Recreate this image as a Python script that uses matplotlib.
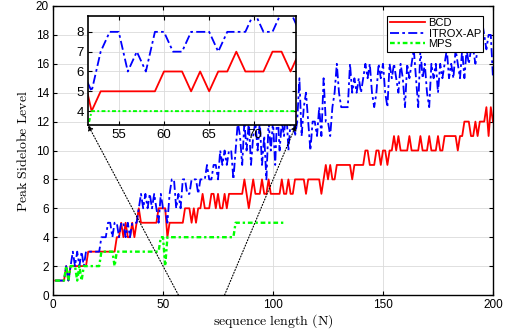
import numpy as np
import matplotlib
matplotlib.use('Agg')
import matplotlib.pyplot as plt

# peak sidelobe level, N = 1..200
bcd = [
    1, 1, 1, 1, 1, 2, 1, 2, 2, 2, 2, 2, 2, 2, 2, 3, 3, 3, 3, 3,            # 1-20
    3, 3, 3, 3, 3, 3, 3, 3, 4, 4, 5, 4, 5, 4, 4, 5, 4, 5, 6, 5,            # 21-40
    5, 5, 5, 5, 5, 5, 5, 6, 6, 6, 6, 4, 5, 5, 5, 5, 5, 5, 5, 6,            # 41-60
    6, 6, 5, 6, 5, 6, 6, 7, 6, 6, 6, 7, 7, 6, 7, 6, 6, 7, 6, 7,            # 61-80
    7, 7, 7, 7, 7, 7, 8, 7, 6, 7, 8, 7, 7, 7, 8, 7, 7, 8, 7, 7,            # 81-100
    7, 7, 7, 8, 7, 7, 8, 7, 7, 8, 8, 8, 8, 8, 7, 8, 8, 8, 8, 8,            # 101-120
    8, 7, 8, 9, 8, 9, 8, 8, 9, 9, 9, 9, 9, 9, 9, 8, 9, 9, 9, 9,            # 121-140
    9, 10, 10, 9, 9, 9, 10, 10, 9, 10, 10, 9, 10, 10, 11, 10, 11, 10, 10, 10,   # 141-160
    10, 11, 10, 10, 10, 10, 11, 10, 10, 10, 11, 10, 10, 10, 11, 10, 10, 11, 11, 11,  # 161-180
    11, 11, 11, 10, 11, 11, 12, 12, 12, 11, 11, 12, 11, 12, 12, 12, 13, 11, 13, 12,  # 181-200
]
itrox = [
    1, 1, 1, 1, 1, 2, 1, 2, 3, 2, 3, 2, 3, 2, 3, 3, 3, 3, 3, 3,            # 1-20
    3, 4, 4, 4, 5, 5, 4, 5, 5, 4, 5, 5, 4, 5, 4, 5, 5, 5, 6, 7,            # 21-40
    6, 7, 6, 7, 6, 7, 6, 5, 7, 6, 6, 5, 7, 8, 8, 6, 7, 6, 8, 8,            # 41-60
    7, 7, 8, 8, 8, 7, 8, 8, 8, 9, 8, 8, 9, 9, 8, 10, 9, 10, 9, 10,         # 61-80
    10, 8, 10, 12, 11, 9, 12, 10, 12, 9, 11, 12, 10, 12, 9, 11, 8, 12, 10, 12,  # 81-100
    9, 13, 10, 12, 11, 13, 10, 12, 13, 11, 12, 15, 11, 13, 14, 12, 10, 12, 12, 11,  # 101-120
    13, 11, 15, 12, 12, 11, 13, 14, 16, 14, 13, 13, 13, 13, 16, 14, 15, 14, 15, 14,  # 121-140
    15, 16, 15, 16, 14, 13, 14, 16, 15, 16, 14, 13, 16, 15, 16, 15, 14, 16, 15, 13,  # 141-160
    16, 15, 16, 17, 15, 13, 17, 15, 16, 14, 13, 16, 15, 16, 14, 16, 15, 16, 17, 15,  # 161-180
    16, 15, 17, 16, 15, 17, 15, 17, 16, 17, 17, 16, 17, 18, 19, 18, 17, 18, 18, 15,  # 181-200
]
# MPS only up to N = 105
mps = [
    1, 1, 1, 1, 1, 2, 1, 2, 2, 2, 1, 2, 1, 2, 2, 2, 2, 2, 2, 2,            # 1-20
    2, 3, 3, 3, 3, 3, 3, 2, 3, 3, 3, 3, 3, 3, 3, 3, 3, 3, 3, 3,            # 21-40
    3, 3, 3, 3, 3, 3, 3, 3, 4, 4, 2, 4, 4, 4, 4, 4, 4, 4, 4, 4,            # 41-60
    4, 4, 4, 4, 4, 4, 4, 4, 4, 4, 4, 4, 4, 4, 4, 4, 4, 4, 4, 4,            # 61-80
    4, 4, 5, 5, 5, 5, 5, 5, 5, 5, 5, 5, 5, 5, 5, 5, 5, 5, 5, 5,            # 81-100
    5, 5, 5, 5, 5,                                                         # 101-105
]
n_bcd = np.arange(1, len(bcd) + 1)
n_itrox = np.arange(1, len(itrox) + 1)
n_mps = np.arange(1, len(mps) + 1)

plt.rcParams['font.family'] = ['Liberation Sans', 'DejaVu Sans']
plt.rcParams['mathtext.fontset'] = 'cm'

W, H = 510, 335
fig = plt.figure(figsize=(W / 100, H / 100), dpi=100)


def draw_lines(a, lw, lw_mps):
    a.plot(n_bcd, bcd, color=(1, 0, 0), lw=lw, label='BCD')
    a.plot(n_itrox, itrox, color=(0, 0, 1), lw=lw, dashes=(5, 1.8, 1.5, 1.8), label='ITROX-AP')
    a.plot(n_mps, mps, color=(0, 1, 0), lw=lw_mps, dashes=(2, 1.2, 1, 1.2), label='MPS')


def style(a, labelsize, spine_w):
    a.tick_params(direction='in', top=True, right=True, labelsize=labelsize,
                  length=3, width=0.8, pad=3)
    a.grid(True, color='0.86', lw=0.6)
    a.set_axisbelow(True)
    for s in a.spines.values():
        s.set_linewidth(spine_w)


# main axes
ax = fig.add_axes([53 / W, 1 - 295 / H, 440 / W, 289 / H])
draw_lines(ax, 1.3, 1.7)
ax.set_xlim(0, 200)
ax.set_ylim(0, 20)
ax.set_xticks([0, 50, 100, 150, 200])
ax.set_yticks(np.arange(0, 21, 2))
style(ax, 8.5, 1.0)
ax.set_xlabel(r'$\mathrm{sequence\ length\ (N)}$', fontsize=10, labelpad=1)
ax.set_ylabel(r'$\mathrm{Peak\ Sidelobe\ Level}$', fontsize=10, labelpad=4)
ax.legend(loc='upper right', fontsize=8, fancybox=False, edgecolor='k',
          framealpha=1, borderpad=0.2, labelspacing=0.05, handlelength=3.2,
          handletextpad=0.3, borderaxespad=0.9).get_frame().set_linewidth(0.8)

# zoomed inset
axins = fig.add_axes([88 / W, 1 - 125 / H, 208 / W, 109 / H])
draw_lines(axins, 1.3, 1.4)
axins.set_xlim(51.6, 74.6)
axins.set_ylim(3.3, 8.8)
axins.set_xticks([55, 60, 65, 70])
axins.set_yticks([4, 5, 6, 7, 8])
style(axins, 9.5, 1.2)

# dotted arrows from the x axis to the inset corners
for x0, corner in [(57, (0, 0)), (78, (1, 0))]:
    ax.annotate('', xy=corner, xycoords=axins.transAxes, xytext=(x0, 0),
                textcoords='data', annotation_clip=False,
                arrowprops=dict(arrowstyle='-|>', ls=':', color='k', lw=0.8,
                                shrinkA=0, shrinkB=0, mutation_scale=8))

fig.savefig('out.png', dpi=100)
